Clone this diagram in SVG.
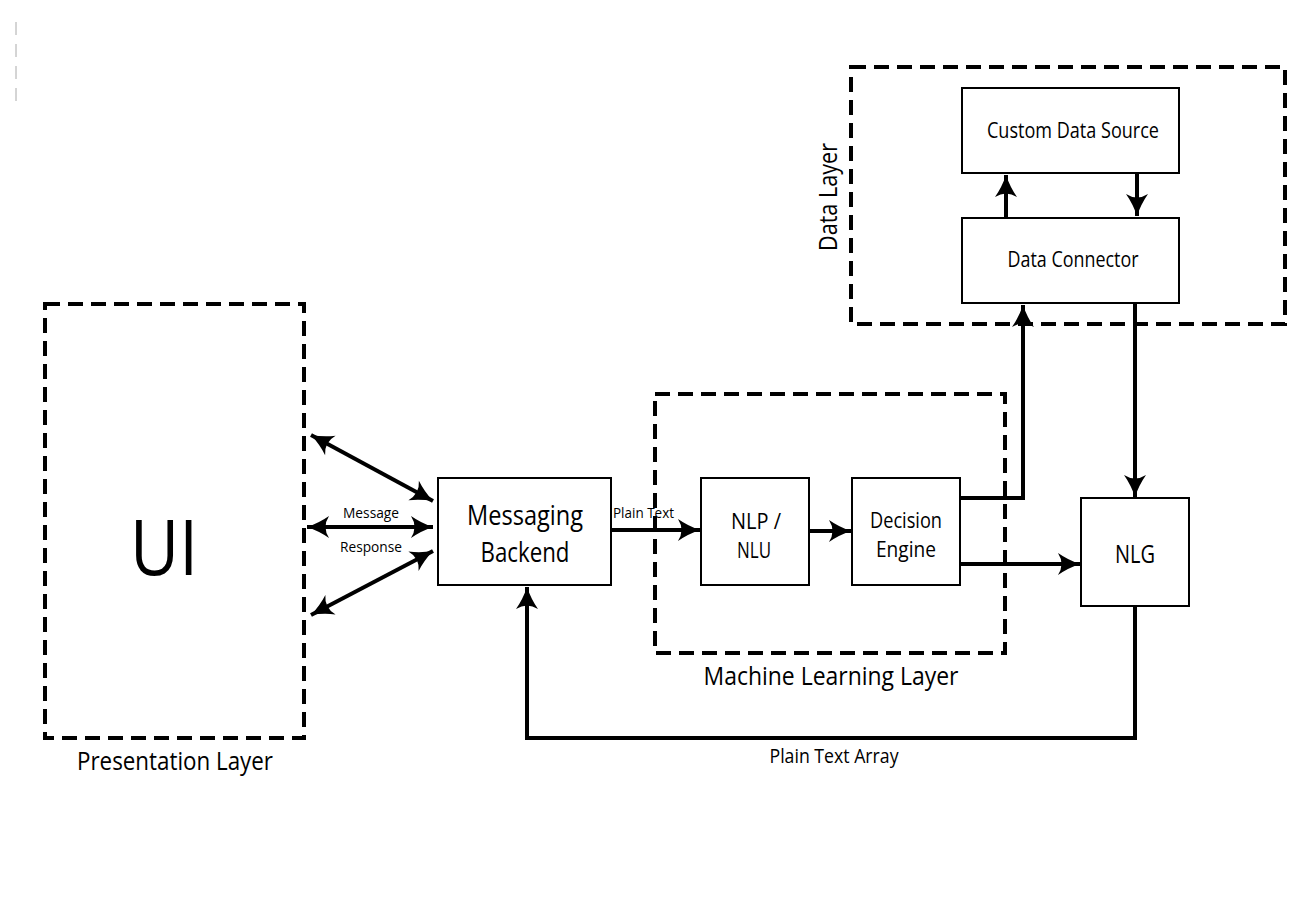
<svg xmlns="http://www.w3.org/2000/svg" width="1300" height="919" viewBox="0 0 1300 919">
<style>
  text { font-family: "Open Sans", "Liberation Sans", sans-serif; fill: #000; }
  .box { fill: #fff; stroke: #000; stroke-width: 2; }
  .layer { fill: none; stroke: #000; stroke-width: 4; stroke-dasharray: 15 8; }
  .conn { fill: none; stroke: #000; stroke-width: 4; }
</style>
<defs>
  <marker id="ah" markerUnits="userSpaceOnUse" markerWidth="30" markerHeight="30" refX="24" refY="12" orient="auto-start-reverse">
    <path d="M24,12 Q12,8 2,1 Q9,12 2,23 Q12,16 24,12 Z" fill="#000"/>
  </marker>
</defs>
<rect width="1300" height="919" fill="#fff"/>
<line x1="16" y1="22" x2="16" y2="102" stroke="#aaa" stroke-width="1" stroke-dasharray="13 9"/>

<g id="presentation-layer">
  <rect class="layer" x="45" y="304" width="259" height="434"/>
  <text x="175" y="770" font-size="25" text-anchor="middle" textLength="196" lengthAdjust="spacingAndGlyphs">Presentation Layer</text>
</g>
<g id="ui">
  <text x="164" y="575" font-size="77" text-anchor="middle" textLength="68" lengthAdjust="spacingAndGlyphs">UI</text>
</g>
<g id="ml-layer">
  <rect class="layer" x="655" y="394" width="350" height="259"/>
  <text x="831" y="685" font-size="25" text-anchor="middle" textLength="255" lengthAdjust="spacingAndGlyphs">Machine Learning Layer</text>
</g>
<g id="data-layer">
  <rect class="layer" x="851" y="67" width="434" height="257"/>
  <text transform="translate(837,197) rotate(-90)" font-size="25" text-anchor="middle" textLength="108" lengthAdjust="spacingAndGlyphs">Data Layer</text>
</g>
<g id="messaging-backend">
  <rect class="box" x="438" y="478" width="173" height="107"/>
  <text x="525" y="525" font-size="27" text-anchor="middle" textLength="116" lengthAdjust="spacingAndGlyphs">Messaging</text>
  <text x="525" y="562" font-size="27" text-anchor="middle" textLength="89" lengthAdjust="spacingAndGlyphs">Backend</text>
</g>
<g id="nlp-nlu">
  <rect class="box" x="701" y="478" width="108" height="107"/>
  <text x="756" y="529" font-size="22" text-anchor="middle" textLength="50" lengthAdjust="spacingAndGlyphs">NLP /</text>
  <text x="754" y="558" font-size="22" text-anchor="middle" textLength="34" lengthAdjust="spacingAndGlyphs">NLU</text>
</g>
<g id="decision-engine">
  <rect class="box" x="852" y="478" width="108" height="107"/>
  <text x="906" y="528" font-size="22" text-anchor="middle" textLength="72" lengthAdjust="spacingAndGlyphs">Decision</text>
  <text x="906" y="557" font-size="22" text-anchor="middle" textLength="60" lengthAdjust="spacingAndGlyphs">Engine</text>
</g>
<g id="nlg">
  <rect class="box" x="1081" y="498" width="108" height="108"/>
  <text x="1135" y="563" font-size="25" text-anchor="middle" textLength="40" lengthAdjust="spacingAndGlyphs">NLG</text>
</g>
<g id="custom-data-source">
  <rect class="box" x="962" y="88" width="217" height="85"/>
  <text x="1073" y="138" font-size="22" text-anchor="middle" textLength="172" lengthAdjust="spacingAndGlyphs">Custom Data Source</text>
</g>
<g id="data-connector">
  <rect class="box" x="962" y="218" width="217" height="85"/>
  <text x="1073" y="267" font-size="22" text-anchor="middle" textLength="131" lengthAdjust="spacingAndGlyphs">Data Connector</text>
</g>

<g id="connectors">
  <line class="conn" x1="311" y1="435" x2="433" y2="501" marker-start="url(#ah)" marker-end="url(#ah)"/>
  <line class="conn" x1="307" y1="527" x2="433" y2="527" marker-start="url(#ah)" marker-end="url(#ah)"/>
  <line class="conn" x1="311" y1="615" x2="433" y2="551" marker-start="url(#ah)" marker-end="url(#ah)"/>
  <line class="conn" x1="611" y1="530" x2="700" y2="530" marker-end="url(#ah)"/>
  <line class="conn" x1="809" y1="531" x2="851" y2="531" marker-end="url(#ah)"/>
  <line class="conn" x1="960" y1="564" x2="1080" y2="564" marker-end="url(#ah)"/>
  <polyline class="conn" points="960,498 1023,498 1023,305" marker-end="url(#ah)"/>
  <line class="conn" x1="1135" y1="303" x2="1135" y2="497" marker-end="url(#ah)"/>
  <line class="conn" x1="1006" y1="218" x2="1006" y2="175" marker-end="url(#ah)"/>
  <line class="conn" x1="1137" y1="173" x2="1137" y2="216" marker-end="url(#ah)"/>
  <polyline class="conn" points="1135,606 1135,738 527,738 527,587" marker-end="url(#ah)"/>
  <text x="371" y="518" font-size="15" text-anchor="middle" textLength="56" lengthAdjust="spacingAndGlyphs">Message</text>
  <text x="371" y="552" font-size="15" text-anchor="middle" textLength="62" lengthAdjust="spacingAndGlyphs">Response</text>
  <text x="613" y="518" font-size="15" textLength="61" lengthAdjust="spacingAndGlyphs">Plain Text</text>
  <text x="834" y="763" font-size="20" text-anchor="middle" textLength="129" lengthAdjust="spacingAndGlyphs">Plain Text Array</text>
</g>
</svg>
